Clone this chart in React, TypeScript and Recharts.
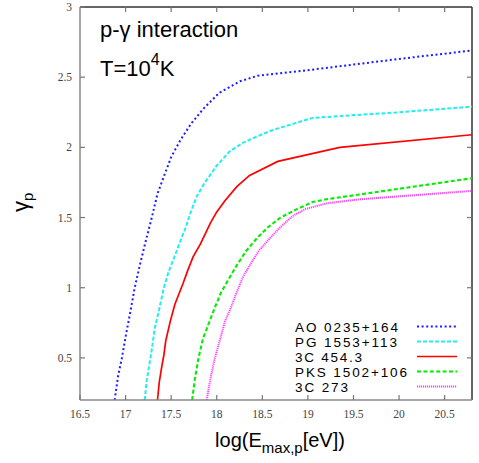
import React from 'react';
import { LineChart, Line, XAxis, YAxis, ReferenceLine } from 'recharts';

const xTicks = [16.5, 17, 17.5, 18, 18.5, 19, 19.5, 20, 20.5];
const yTicks = [0.5, 1, 1.5, 2, 2.5, 3];
const xDomain = [16.5, 20.8];
const yDomain = [0.2, 3];
const seriesNames = ['AO 0235+164', 'PG 1553+113', '3C 454.3', 'PKS 1502+106', '3C 273'];

const ao0235 = [
  [16.88, 0.2], [16.92, 0.38], [16.96, 0.5], [17.0, 0.65], [17.05, 0.82], [17.1, 1.0],
  [17.16, 1.17], [17.22, 1.33], [17.28, 1.48], [17.35, 1.67], [17.43, 1.81], [17.5, 1.93],
  [17.6, 2.05], [17.72, 2.17], [17.86, 2.28], [18.03, 2.39], [18.25, 2.47], [18.45, 2.51],
  [19.0, 2.55], [19.5, 2.59], [20.0, 2.63], [20.8, 2.69],
];
const pg1553 = [
  [17.21, 0.2], [17.23, 0.33], [17.26, 0.45], [17.29, 0.57], [17.32, 0.71], [17.37, 0.85],
  [17.42, 1.0], [17.47, 1.11], [17.53, 1.21], [17.6, 1.33], [17.66, 1.43], [17.71, 1.53],
  [17.78, 1.65], [17.86, 1.74], [18.0, 1.87], [18.14, 1.97], [18.28, 2.03], [18.45, 2.08],
  [18.6, 2.12], [19.05, 2.21], [20.0, 2.25], [20.8, 2.29],
];
const c454 = [
  [17.35, 0.2], [17.37, 0.33], [17.4, 0.45], [17.42, 0.52], [17.44, 0.62], [17.49, 0.76],
  [17.54, 0.88], [17.6, 0.98], [17.63, 1.03], [17.68, 1.12], [17.74, 1.22], [17.82, 1.31],
  [17.93, 1.46], [18.0, 1.54], [18.09, 1.62], [18.22, 1.72], [18.36, 1.8], [18.67, 1.9],
  [19.35, 2.0], [20.8, 2.09],
];
const pks1502 = [
  [17.73, 0.2], [17.76, 0.35], [17.8, 0.5], [17.85, 0.64], [17.91, 0.74], [17.98, 0.86],
  [18.05, 0.97], [18.13, 1.06], [18.22, 1.16], [18.32, 1.26], [18.45, 1.36], [18.56, 1.43],
  [18.7, 1.5], [18.88, 1.56], [19.05, 1.61], [19.2, 1.63], [20.8, 1.78],
];
const c273 = [
  [17.89, 0.2], [17.93, 0.35], [17.98, 0.5], [18.04, 0.64], [18.09, 0.76], [18.15, 0.85],
  [18.22, 0.97], [18.29, 1.08], [18.38, 1.18], [18.47, 1.27], [18.58, 1.35], [18.68, 1.42],
  [18.83, 1.51], [18.97, 1.56], [19.2, 1.6], [19.57, 1.63], [20.8, 1.69],
];

const seriesData = [ao0235, pg1553, c454, pks1502, c273].map((s) => s.map(([x, y]) => ({ x, y })));

const styles = [
  { color: '#1c1cff', width: 2, dash: '2 2.6' },
  { color: '#22eeee', width: 2, dash: '4 2' },
  { color: '#ff0000', width: 1.7, dash: undefined },
  { color: '#00ee00', width: 2.1, dash: '4 2.4' },
  { color: '#ff44ff', width: 2, dash: '1.2 0.8' },
];

// plot box (layout constants shared with the chart's margin / axis sizes)
const W = 479, H = 463;
const M = { top: 7, right: 7, bottom: 0, left: 0 };
const Y_AXIS_W = 80, X_AXIS_H = 63;
const box = { l: M.left + Y_AXIS_W, r: W - M.right, t: M.top, b: H - X_AXIS_H };
const sx = (v: number) => box.l + ((v - xDomain[0]) / (xDomain[1] - xDomain[0])) * (box.r - box.l);
const sy = (v: number) => box.b - ((v - yDomain[0]) / (yDomain[1] - yDomain[0])) * (box.b - box.t);

const tickFont = { fontFamily: '"Liberation Serif", serif', fontSize: 11.5, fill: '#444' };

const BottomTick = (props: any) => {
  const { x, y, payload } = props;
  return (
    <g>
      <line x1={x} x2={x} y1={y} y2={y - 5} stroke="#777" strokeWidth={1.2} />
      <text x={x} y={y + 18} textAnchor="middle" {...tickFont}>{payload.value}</text>
    </g>
  );
};
const LeftTick = (props: any) => {
  const { x, y, payload } = props;
  return (
    <g>
      <line x1={x} x2={x + 5} y1={y} y2={y} stroke="#777" strokeWidth={1.2} />
      <text x={x - 8} y={y + 4} textAnchor="end" {...tickFont}>{payload.value}</text>
    </g>
  );
};

const legendY = [326.5, 341.5, 356.5, 371.5, 386.5];
const legendLen = [103, 102, 67, 112, 53];

export default function App() {
  return (
    <div style={{ position: 'absolute', left: 0, top: 0, width: W, height: H, background: '#fff' }}>
      <LineChart width={W} height={H} margin={M}>
        <XAxis
          dataKey="x" type="number" domain={xDomain} ticks={xTicks} interval={0}
          allowDataOverflow height={X_AXIS_H} tickSize={0} tickMargin={0}
          axisLine={{ stroke: '#888', strokeWidth: 1.5 }} tick={<BottomTick />}
        />
        <YAxis
          type="number" domain={yDomain} ticks={yTicks} interval={0} allowDataOverflow width={Y_AXIS_W}
          tickSize={0} tickMargin={0} axisLine={{ stroke: '#888', strokeWidth: 1.5 }} tick={<LeftTick />}
        />
        <ReferenceLine y={yDomain[1]} stroke="#333" strokeWidth={1.5} ifOverflow="visible" />
        <ReferenceLine x={xDomain[1]} stroke="#333" strokeWidth={1.5} ifOverflow="visible" />
        {seriesData.map((d, i) => (
          <Line
            key={seriesNames[i]} data={d} dataKey="y" name={seriesNames[i]} type="linear"
            stroke={styles[i].color} strokeWidth={styles[i].width} strokeDasharray={styles[i].dash}
            dot={false} activeDot={false} isAnimationActive={false}
          />
        ))}
      </LineChart>
      <svg width={W} height={H} style={{ position: 'absolute', left: 0, top: 0, pointerEvents: 'none' }}>
        <g stroke="#777" strokeWidth={1.2}>
          {xTicks.slice(1).map((t) => (
            <line key={'tt' + t} x1={sx(t)} x2={sx(t)} y1={box.t} y2={box.t + 5} />
          ))}
          {yTicks.slice(0, -1).map((t) => (
            <line key={'rt' + t} x1={box.r} x2={box.r - 5} y1={sy(t)} y2={sy(t)} />
          ))}
        </g>
        <g fontFamily='"Liberation Sans", Arial, sans-serif' fill="#000">
          <text x={100} y={37} fontSize={22}>p-γ interaction</text>
          <text x={100} y={76} fontSize={22}>
            T=10<tspan fontSize={16} dy={-11}>4</tspan><tspan dy={11}>K</tspan>
          </text>
          <text x={280} y={447} fontSize={20} textAnchor="middle">
            log(E<tspan fontSize={15} dy={6}>max,p</tspan><tspan dy={-6}>[eV])</tspan>
          </text>
          <text transform="translate(28,212) rotate(-90)" fontSize={22}>
            γ<tspan fontSize={15} dy={5}>p</tspan>
          </text>
          {seriesNames.map((n, i) => (
            <g key={n}>
              <text x={295} y={legendY[i] + 5} fontSize={13.5} textLength={legendLen[i]} lengthAdjust="spacing">{n}</text>
              <line x1={417} x2={457} y1={legendY[i]} y2={legendY[i]} stroke={styles[i].color}
                strokeWidth={styles[i].width} strokeDasharray={styles[i].dash} />
            </g>
          ))}
        </g>
      </svg>
    </div>
  );
}
